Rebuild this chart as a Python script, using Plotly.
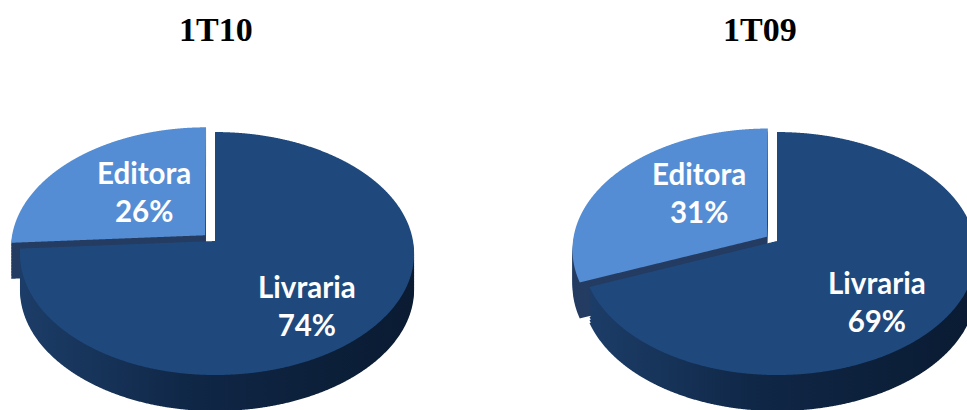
import plotly.graph_objects as go

WIDTH, HEIGHT = 967, 410

categories = ["Livraria", "Editora"]
titles = ["1T10", "1T09"]
values_1t10 = [74, 26]
values_1t09 = [69, 31]

series = [values_1t10, values_1t09]
pulls = [0.07, 0.063]
domains = [[0.0, 0.44], [0.56, 1.0]]
apex_x = [215, 777]
title_x = [216, 760]
wall_depths = list(range(36, 0, -3))
label_pos = [
    {"Editora": (144, 191), "Livraria": (307, 305)},
    {"Editora": (699, 192), "Livraria": (877, 301)},
]

TOP = "#1f497d"
EDITORA = "#548dd4"
SIDE_EDITORA = "#243c62"
SIDE_LIVRARIA = "#12294a"

fig = go.Figure()
layer_spec = []  # (pie index, depth, is wall) for every trace, in drawing order
for depth in wall_depths:
    for i, vals in enumerate(series):
        fig.add_trace(go.Pie(
            labels=categories, values=vals, sort=False, direction="clockwise", rotation=0,
            pull=[0, pulls[i]], domain={"x": domains[i], "y": [0, 1]},
            marker={"colors": [SIDE_LIVRARIA, SIDE_EDITORA], "line": {"width": 0}},
            textinfo="none", hoverinfo="skip", showlegend=False))
        layer_spec.append([i, depth, 1])
for i, vals in enumerate(series):
    fig.add_trace(go.Pie(
        labels=categories, values=vals, sort=False, direction="clockwise", rotation=0,
        pull=[0, pulls[i]], domain={"x": domains[i], "y": [0, 1]},
        marker={"colors": [TOP, EDITORA], "line": {"width": 0}},
        textinfo="none", hoverinfo="skip", showlegend=False))
    layer_spec.append([i, 0, 0])

annotations = []
for i, t in enumerate(titles):
    annotations.append(dict(
        x=title_x[i] / WIDTH, y=1 - 30 / HEIGHT, xref="paper", yref="paper", text=f"<b>{t}</b>",
        showarrow=False, xanchor="center", yanchor="middle",
        font={"family": "Liberation Serif", "size": 34, "color": "black"}))
    for cat, v in zip(categories, series[i]):
        lx, ly = label_pos[i][cat]
        annotations.append(dict(
            x=lx / WIDTH, y=1 - ly / HEIGHT, xref="paper", yref="paper",
            text=f"<b>{cat}</b><br><b>{v}%</b>", showarrow=False,
            xanchor="center", yanchor="middle", align="center",
            font={"family": "Lato", "size": 29.5, "color": "white"}))

fig.update_layout(
    width=WIDTH, height=HEIGHT, margin={"l": 0, "r": 0, "t": 0, "b": 0},
    paper_bgcolor="white", plot_bgcolor="white", annotations=annotations)

# The pies come from the values above; this tilts each one into the perspective ellipse
# of the original 3-D pie, and drops the wall layers down to form the side wall.
post = """
document.body.style.margin = '0';
document.body.style.overflow = 'hidden';
var gd = document.getElementById('{plot_id}');
var R_LEFT = 194, R_RIGHT = 198, APEX_Y = 241, A = 120.2, C = -0.103;
var APEX_X = %s, SPEC = %s;
var NS = 'http://www.w3.org/2000/svg';
var svg = gd.querySelector('svg.main-svg');
var defs = document.createElementNS(NS, 'defs');
var grad = document.createElementNS(NS, 'linearGradient');
grad.setAttribute('id', 'sideGrad');
[[0, '#1c3d68'], [0.45, '#0f2645'], [1, '#0a1b32']].forEach(function (s) {
  var st = document.createElementNS(NS, 'stop');
  st.setAttribute('offset', s[0]); st.setAttribute('stop-color', s[1]);
  grad.appendChild(st);
});
defs.appendChild(grad); svg.insertBefore(defs, svg.firstChild);
var traces = gd.querySelectorAll('.pielayer .trace');
traces.forEach(function (tr, t) {
  var cd = gd.calcdata[t][0], k = SPEC[t][0], dz = SPEC[t][1], wall = SPEC[t][2];
  tr.querySelectorAll('path.surface').forEach(function (p, s) {
    var L = p.getTotalLength(), N = 1500, d = '';
    for (var n = 0; n <= N; n++) {
      var q = p.getPointAtLength(L * n / N);
      var u = (q.x - cd.cx) / cd.r, v = (q.y - cd.cy) / cd.r, w = 1 + C * v;
      var R = u < 0 ? R_LEFT : R_RIGHT;
      d += (n ? 'L' : 'M') + (APEX_X[k] + R * u / w).toFixed(2) + ',' + (APEX_Y + A * v / w + dz).toFixed(2);
    }
    p.setAttribute('d', d + 'Z');
    if (wall && s === 0) p.style.setProperty('fill', 'url(#sideGrad)');
  });
});
""" % (str(apex_x), str(layer_spec))

fig.write_html("out.html", post_script=post, config={"displayModeBar": False})
